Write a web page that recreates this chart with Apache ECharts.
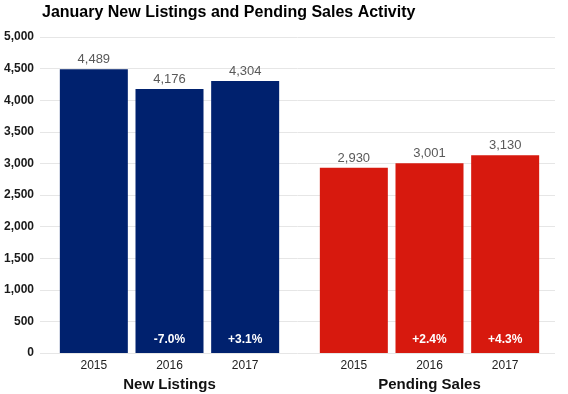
<!DOCTYPE html>
<html><head><meta charset="utf-8">
<script src="https://cdn.jsdelivr.net/npm/echarts@6/dist/echarts.min.js"></script>
<style>html,body{margin:0;padding:0;background:#fff}#c{width:568px;height:394px}</style>
</head><body><div id="c"></div>
<script>
const years = ['2015', '2016', '2017'];
const groupNames = ['New Listings', 'Pending Sales'];
const newListings = [4489, 4176, 4304];
const pendingSales = [2930, 3001, 3130];
const newListingsPct = ['', '-7.0%', '+3.1%'];
const pendingSalesPct = ['', '+2.4%', '+4.3%'];
const yTicks = [0, 500, 1000, 1500, 2000, 2500, 3000, 3500, 4000, 4500, 5000];
const colors = ['#00216e', '#d7190e'];

const font = 'Liberation Sans, Arial, sans-serif';
const fmt = v => v.toLocaleString('en-US');
const chart = echarts.init(document.getElementById('c'));
const groups = [newListings, pendingSales];
const pcts = [newListingsPct, pendingSalesPct];
const yMax = yTicks[yTicks.length - 1];

const gridBase = {top: 37, bottom: 41, containLabel: false, outerBoundsMode: 'none'};
const grids = [
  Object.assign({left: 40, right: 13}, gridBase),
  Object.assign({left: 56, width: 227}, gridBase),
  Object.assign({left: 316, width: 227}, gridBase)
];
const xAxes = [
  {gridIndex: 0, type: 'category', data: [''], show: false}
];
const yAxes = [
  {gridIndex: 0, type: 'value', min: 0, max: yMax, interval: 500,
   axisLine: {show: false}, axisTick: {show: false},
   axisLabel: {fontFamily: font, fontWeight: 'bold', fontSize: 12, color: '#1a1a1a', margin: 6,
               formatter: v => fmt(v)},
   splitLine: {lineStyle: {color: '#e6e6e6', width: 1}}}
];
const series = [];
groups.forEach((vals, gi) => {
  xAxes.push({gridIndex: gi + 1, type: 'category', data: years,
    axisLine: {show: false}, axisTick: {show: false},
    axisLabel: {fontFamily: font, fontSize: 12, color: '#222', margin: 7},
    name: groupNames[gi], nameLocation: 'middle', nameGap: 24,
    nameTextStyle: {fontFamily: font, fontWeight: 'bold', fontSize: 15, color: '#111'}});
  yAxes.push({gridIndex: gi + 1, type: 'value', min: 0, max: yMax, show: false});
  series.push({type: 'bar', xAxisIndex: gi + 1, yAxisIndex: gi + 1, data: vals,
    barWidth: 68, itemStyle: {color: colors[gi]},
    label: {show: true, position: 'top', distance: 3, fontFamily: font, fontSize: 13,
            color: '#595959', formatter: p => fmt(p.value)}});
  series.push({type: 'bar', xAxisIndex: gi + 1, yAxisIndex: gi + 1, data: vals,
    barWidth: 68, barGap: '-100%', itemStyle: {color: 'rgba(0,0,0,0)'}, silent: true,
    label: {show: true, position: 'insideBottom', distance: 7, fontFamily: font, fontSize: 12,
            fontWeight: 'bold', color: '#fff', formatter: p => pcts[gi][p.dataIndex]}});
});

chart.setOption({
  animation: false,
  title: {text: 'January New Listings and Pending Sales Activity', left: 37, top: 0,
    textStyle: {fontFamily: font, fontWeight: 'bold', fontSize: 16, color: '#000'}},
  grid: grids, xAxis: xAxes, yAxis: yAxes, series: series
});
</script></body></html>
